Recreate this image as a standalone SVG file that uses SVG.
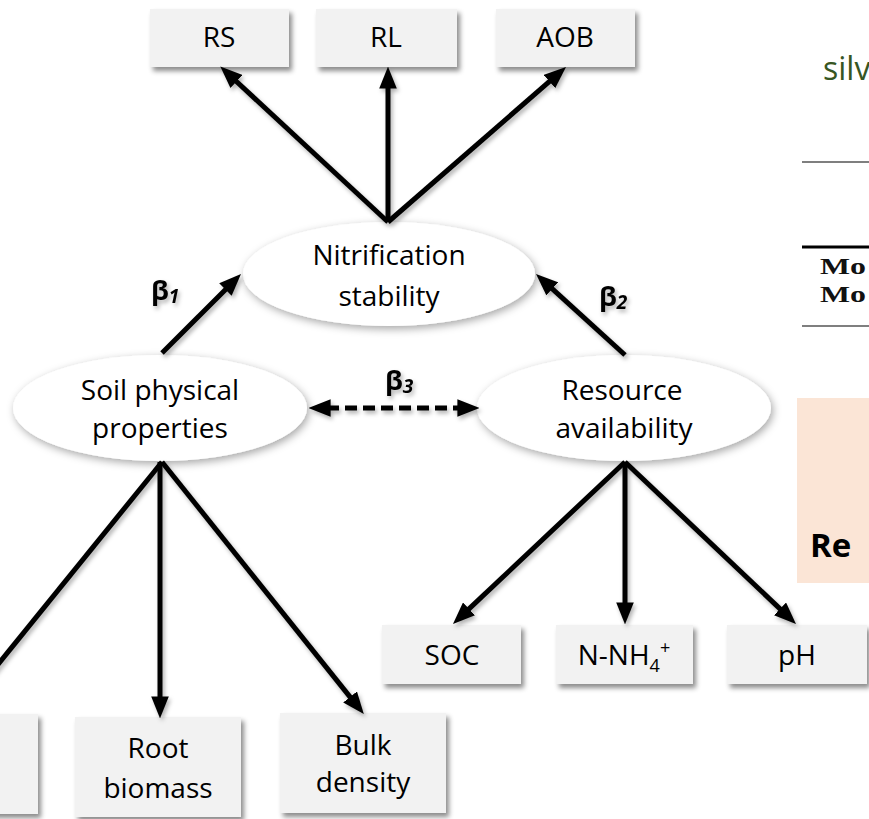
<svg xmlns="http://www.w3.org/2000/svg" width="869" height="819" viewBox="0 0 869 819">
<defs>
<style>
.box{fill:#f2f2f2;filter:url(#bsh)}
.ell{fill:#ffffff;filter:url(#esh)}
.t{font-family:"Open Sans","Noto Sans",sans-serif;font-size:28px;fill:#000;text-anchor:middle}
.b{font-family:"Open Sans","Noto Sans",sans-serif;font-size:27px;font-weight:bold;fill:#000}
.bs{font-size:19px;font-style:italic}
.c{stroke:#000;stroke-width:5;fill:none;marker-end:url(#ah)}
.side{font-family:"Open Sans","Noto Sans",sans-serif}
.mo{font-family:"Liberation Serif",serif;font-size:24px;font-weight:bold;fill:#111}
</style>
<filter id="bsh" x="-20%" y="-20%" width="140%" height="150%">
<feDropShadow dx="3" dy="4" stdDeviation="2.5" flood-color="#000" flood-opacity="0.45"/>
</filter>
<filter id="esh" x="-20%" y="-30%" width="140%" height="160%">
<feDropShadow dx="2" dy="3" stdDeviation="4" flood-color="#000" flood-opacity="0.35"/>
</filter>
<filter id="lsh" x="-20%" y="-20%" width="140%" height="140%">
<feDropShadow dx="2" dy="3" stdDeviation="2" flood-color="#000" flood-opacity="0.3"/>
</filter>
<marker id="ah" markerUnits="userSpaceOnUse" markerWidth="22" markerHeight="18" refX="6" refY="8" orient="auto-start-reverse" viewBox="0 0 20 16">
<path d="M0,0 L20,8 L0,16 z" fill="#000"/>
</marker>
</defs>
<rect width="869" height="819" fill="#ffffff"/>

<g id="side">
<text class="side" x="823" y="80" font-size="32" fill="#375623">silv</text>
<line x1="802" y1="162" x2="869" y2="162" stroke="#555" stroke-width="1.5"/>
<line x1="802" y1="247" x2="869" y2="247" stroke="#000" stroke-width="3"/>
<text class="mo" x="820" y="274" textLength="46" lengthAdjust="spacingAndGlyphs">Mo</text>
<text class="mo" x="820" y="302" textLength="46" lengthAdjust="spacingAndGlyphs">Mo</text>
<line x1="802" y1="326" x2="869" y2="326" stroke="#555" stroke-width="1.5"/>
<rect x="797" y="398" width="72" height="185" fill="#fbe5d6"/>
<text class="side" x="810" y="557" font-size="33" font-weight="bold" fill="#000">Re</text>
</g>

<g id="n-rs"><rect class="box" x="150" y="9" width="139" height="58"/><text class="t" x="219" y="47">RS</text></g>
<g id="n-rl"><rect class="box" x="316" y="9" width="141" height="58"/><text class="t" x="386" y="47">RL</text></g>
<g id="n-aob"><rect class="box" x="496" y="9" width="139" height="58"/><text class="t" x="565" y="47">AOB</text></g>

<g id="n-nit"><ellipse class="ell" cx="389" cy="274" rx="146" ry="52"/><text class="t" x="389" y="265">Nitrification</text><text class="t" x="389" y="306">stability</text></g>
<g id="n-soil"><ellipse class="ell" cx="160" cy="408" rx="147" ry="53"/><text class="t" x="160" y="400">Soil physical</text><text class="t" x="160" y="438">properties</text></g>
<g id="n-res"><ellipse class="ell" cx="624" cy="408" rx="147" ry="53"/><text class="t" x="622" y="400">Resource</text><text class="t" x="624" y="438">availability</text></g>

<g id="n-left"><rect class="box" x="-10" y="714" width="48" height="100"/></g>
<g id="n-root"><rect class="box" x="75" y="717" width="166" height="100"/><text class="t" x="158" y="758">Root</text><text class="t" x="158" y="798">biomass</text></g>
<g id="n-bulk"><rect class="box" x="280" y="713" width="166" height="100"/><text class="t" x="363" y="755">Bulk</text><text class="t" x="363" y="792">density</text></g>

<g id="n-soc"><rect class="box" x="382" y="625" width="139" height="59"/><text class="t" x="452" y="665">SOC</text></g>
<g id="n-nh4"><rect class="box" x="556" y="625" width="137" height="59"/><text class="t" x="624" y="665">N-NH<tspan font-size="18" dy="7">4</tspan><tspan font-size="18" dy="-18">+</tspan></text></g>
<g id="n-ph"><rect class="box" x="727" y="625" width="140" height="59"/><text class="t" x="797" y="665">pH</text></g>

<g id="connectors" filter="url(#lsh)">
<line class="c" x1="388" y1="222" x2="231.6" y2="77"/>
<line class="c" x1="388" y1="222" x2="388" y2="82"/>
<line class="c" x1="388" y1="222" x2="554.4" y2="77.2"/>
<line class="c" x1="162" y1="353" x2="230.1" y2="284.9"/>
<line class="c" x1="625" y1="355" x2="547.4" y2="284.4"/>
<line class="c" x1="324" y1="408" x2="464" y2="408" stroke-dasharray="12 6" stroke-dashoffset="-3" marker-start="url(#ah)"/>
<line class="c" x1="162" y1="462" x2="-38.3" y2="709.2"/>
<line class="c" x1="160" y1="462" x2="160" y2="703"/>
<line class="c" x1="162" y1="462" x2="354.2" y2="702.1"/>
<line class="c" x1="625" y1="462" x2="464.2" y2="613.4"/>
<line class="c" x1="625" y1="462" x2="625" y2="609"/>
<line class="c" x1="625" y1="462" x2="784.8" y2="613.4"/>
<text class="b" x="151" y="300">β<tspan class="bs" dy="3">1</tspan></text>
<text class="b" x="599" y="306">β<tspan class="bs" dy="3">2</tspan></text>
<text class="b" x="385" y="390">β<tspan class="bs" dy="3">3</tspan></text>
</g>
</svg>
